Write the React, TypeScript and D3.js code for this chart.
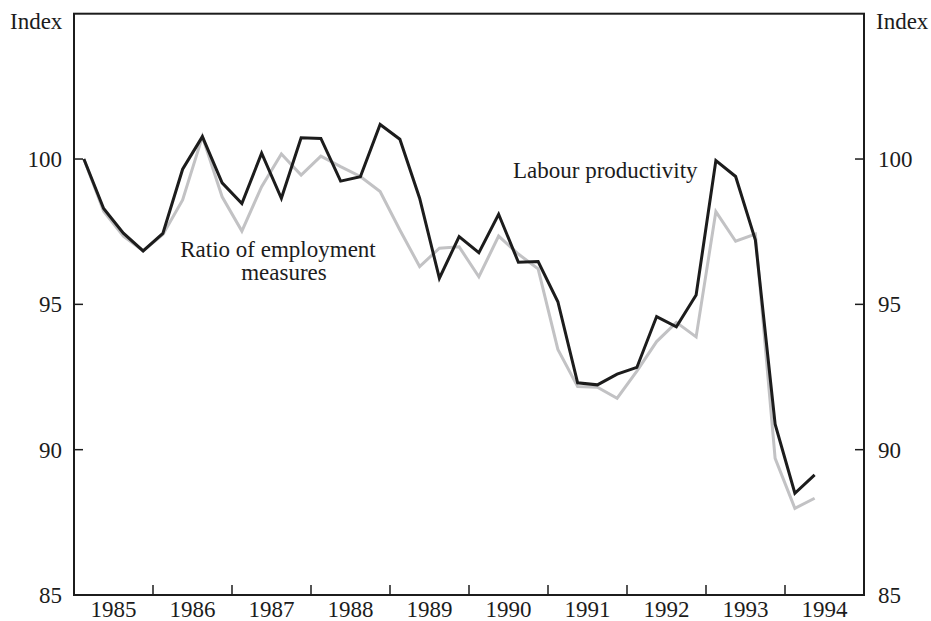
import React from "react";
import * as d3 from "d3";

const startYear = 1985;
const labourProductivity = [
  100.0, 98.3, 97.45, 96.84, 97.44, 99.65, 100.77, 99.18, 98.47, 100.2,
  98.65, 100.73, 100.71, 99.24, 99.39, 101.19, 100.68, 98.65, 95.9, 97.33,
  96.78, 98.1, 96.45, 96.47, 95.09, 92.3, 92.23, 92.6, 92.83, 94.58,
  94.23, 95.32, 99.95, 99.4, 97.21, 90.88, 88.5, 89.13,
];
const employmentRatio = [
  100.0, 98.2, 97.35, 96.84, 97.4, 98.59, 100.77, 98.7, 97.52, 99.05,
  100.17, 99.45, 100.1, 99.74, 99.4, 98.88, 97.56, 96.3, 96.93, 96.98,
  95.95, 97.35, 96.73, 96.22, 93.45, 92.17, 92.15, 91.77, 92.7, 93.72,
  94.38, 93.88, 98.19, 97.17, 97.42, 89.7, 87.98, 88.33,
];
const yearLabels = [1985, 1986, 1987, 1988, 1989, 1990, 1991, 1992, 1993, 1994];
const yTicks = [85, 90, 95, 100];

const W = 931;
const H = 621;
const left = 74;
const right = 864;
const top = 13.7;
const bottom = 595;
const FONT = "'Liberation Serif', 'Times New Roman', serif";
const FS = 23;

export default function App() {
  const x = d3.scaleLinear().domain([1985, 1995]).range([left, right]);
  const y = d3.scaleLinear().domain([85, 105]).range([bottom, top]);
  const t = (i: number) => startYear + (i + 0.5) / 4;
  const line = d3
    .line<number>()
    .x((_, i) => x(t(i)))
    .y((d) => y(d));
  const innerTicks = d3.range(1986, 1995);
  return (
    <svg
      width={W}
      height={H}
      style={{ position: "absolute", left: 0, top: 0, background: "#fff" }}
      fontFamily={FONT}
    >
      <rect x={0} y={0} width={W} height={H} fill="#fff" />
      <path d={line(employmentRatio) || ""} fill="none" stroke="#c2c2c4" strokeWidth={3} strokeLinejoin="miter" />
      <path d={line(labourProductivity) || ""} fill="none" stroke="#1c1c1c" strokeWidth={3} strokeLinejoin="miter" />
      <rect x={left} y={top} width={right - left} height={bottom - top} fill="none" stroke="#1c1c1c" strokeWidth={2} />
      {yTicks.map((v) => (
        <g key={v}>
          <line x1={left} x2={left + 9} y1={y(v)} y2={y(v)} stroke="#1c1c1c" strokeWidth={1.5} />
          <line x1={right - 9} x2={right} y1={y(v)} y2={y(v)} stroke="#1c1c1c" strokeWidth={1.5} />
          <text x={62} y={y(v) + 8} textAnchor="end" fontSize={FS} fill="#1c1c1c">
            {v}
          </text>
          <text x={878} y={y(v) + 8} textAnchor="start" fontSize={FS} fill="#1c1c1c">
            {v}
          </text>
        </g>
      ))}
      {innerTicks.map((yr) => (
        <line key={yr} x1={x(yr)} x2={x(yr)} y1={bottom} y2={bottom - 10} stroke="#1c1c1c" strokeWidth={1.5} />
      ))}
      {yearLabels.map((yr) => (
        <text key={yr} x={x(yr + 0.5)} y={617} textAnchor="middle" fontSize={FS} fill="#1c1c1c">
          {yr}
        </text>
      ))}
      <text x={10} y={29} fontSize={FS} fill="#1c1c1c">Index</text>
      <text x={876} y={29} fontSize={FS} fill="#1c1c1c">Index</text>
      <text x={278} y={257} textAnchor="middle" fontSize={FS} fill="#1c1c1c">Ratio of employment</text>
      <text x={284} y={280} textAnchor="middle" fontSize={FS} fill="#1c1c1c">measures</text>
      <text x={513} y={178} fontSize={FS} fill="#1c1c1c">Labour productivity</text>
    </svg>
  );
}
